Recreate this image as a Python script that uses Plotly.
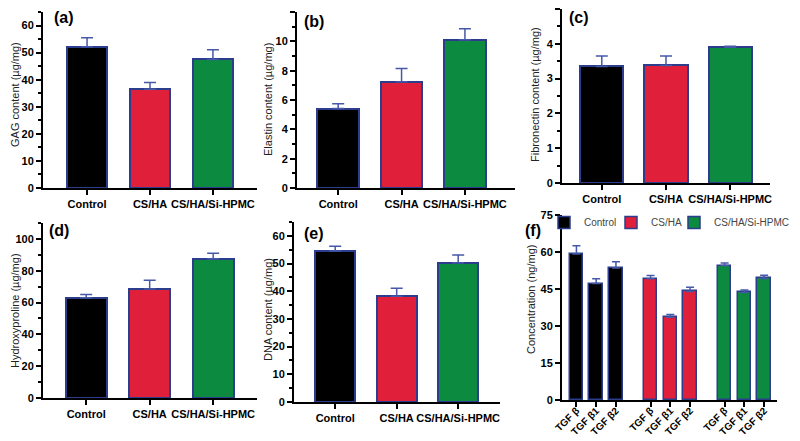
import plotly.graph_objects as go

groups = ["Control", "CS/HA", "CS/HA/Si-HPMC"]
colors = ["#000000", "#e01f3a", "#0b8a40"]

gag = [52.2, 36.5, 47.5]
gag_err = [3.3, 2.5, 3.6]
elastin = [5.42, 7.25, 10.1]
elastin_err = [0.33, 0.9, 0.75]
fibronectin = [3.35, 3.38, 3.9]
fibronectin_err = [0.3, 0.27, 0.03]
hydroxyproline = [63.0, 68.5, 87.5]
hydroxyproline_err = [2.0, 5.5, 3.5]
dna = [54.5, 38.2, 50.3]
dna_err = [1.7, 2.9, 2.8]

tgf_labels = ["TGF β", "TGF β1", "TGF β2"]
tgf_control = [59.2, 47.2, 53.5]
tgf_control_err = [3.3, 2.0, 2.5]
tgf_csha = [49.2, 33.5, 44.0]
tgf_csha_err = [1.3, 1.2, 1.7]
tgf_sihpmc = [54.5, 43.6, 49.3]
tgf_sihpmc_err = [1.0, 1.0, 1.3]

# page body has an 8px margin, so the figure is 792x433 and coordinates are offset by 8
OFF = 8
W, H = 800 - OFF, 441 - OFF
BORDER = "#2b3d8c"
ERRC = "#4658a8"
FONT = "Liberation Sans"

def px(x):
    return (x - OFF) / W

def py(y):
    return 1 - (y - OFF) / H

fig = go.Figure()

panels = [
    (gag, gag_err, "GAG content (µg/mg)", "(a)", (43, 257), (12, 188), 65, 10, 5, (-0.7, 2.7), 0.64, (15, 95), (52, 17)),
    (elastin, elastin_err, "Elastin content (µg/mg)", "(b)", (297, 515), (12, 188), 12, 2, 1, (-0.65, 2.79), 0.66, (268, 100), (302, 21)),
    (fibronectin, fibronectin_err, "Fibronectin content (µg/mg)", "(c)", (562, 770), (9, 183), 5, 1, 0.5, (-0.62, 2.62), 0.67, (535, 95), (567, 17)),
    (hydroxyproline, hydroxyproline_err, "Hydroxyproline (µg/mg)", "(d)", (43, 257), (223, 398), 110, 20, 10, (-0.68, 2.69), 0.65, (15, 311), (47, 231)),
    (dna, dna_err, "DNA content (µg/mg)", "(e)", (294, 500), (222, 402), 65, 10, 5, (-0.67, 2.68), 0.65, (268, 310), (302, 233)),
]

axis_common = dict(showline=True, linecolor="black", linewidth=2, ticks="outside",
                   ticklen=5, tickwidth=2, tickcolor="black", showgrid=False, zeroline=False,
                   automargin=False)
tickfont = dict(family=FONT, size=11, color="black", weight="bold")

annotations = []
for i, (vals, errs, title, label, xd, yd, ymax, dt, mdt, xr, bw, tpos, lpos) in enumerate(panels):
    n = i + 1
    xa = "x" if n == 1 else f"x{n}"
    ya = "y" if n == 1 else f"y{n}"
    fig.add_trace(go.Bar(
        x=groups, y=vals, width=bw,
        marker=dict(color=colors, line=dict(color=BORDER, width=2)),
        error_y=dict(type="data", symmetric=False, array=errs, arrayminus=[0] * len(errs),
                     color=ERRC, thickness=1.5, width=6),
        xaxis=xa, yaxis=ya, showlegend=False))
    fig.layout[f"xaxis{'' if n == 1 else n}"] = dict(
        domain=[px(xd[0]), px(xd[1])], anchor=ya, type="category", range=list(xr),
        tickangle=0, tickfont=tickfont, **axis_common)
    fig.layout[f"yaxis{'' if n == 1 else n}"] = dict(
        domain=[py(yd[1]), py(yd[0])], anchor=xa, range=[0, ymax], dtick=dt,
        minor=dict(dtick=mdt, ticks="outside", ticklen=3, tickwidth=1.5, tickcolor="black"),
        tickfont=tickfont, **axis_common)
    annotations.append(dict(text=title, x=px(tpos[0]), y=py(tpos[1]), xref="paper", yref="paper",
                            textangle=-90, showarrow=False, xanchor="center", yanchor="middle",
                            font=dict(family=FONT, size=11, color="#222")))
    annotations.append(dict(text=label, x=px(lpos[0]), y=py(lpos[1]), xref="paper", yref="paper",
                            showarrow=False, xanchor="left", yanchor="middle",
                            font=dict(family=FONT, size=16, color="black", weight="bold")))

# Panel f
GROUP_STEP = 3.75
tgf_sets = [(tgf_control, tgf_control_err), (tgf_csha, tgf_csha_err), (tgf_sihpmc, tgf_sihpmc_err)]
legend_names = ["legend", "legend2", "legend3"]
tickvals, ticktext = [], []
for g, (vals, errs) in enumerate(tgf_sets):
    xs = [g * GROUP_STEP + k for k in range(len(vals))]
    tickvals += xs
    ticktext += tgf_labels
    fig.add_trace(go.Bar(
        x=xs, y=vals, width=0.68, name=groups[g], legend=legend_names[g],
        marker=dict(color=colors[g], line=dict(color=BORDER, width=1.5)),
        error_y=dict(type="data", symmetric=False, array=errs, arrayminus=[0] * len(errs),
                     color=ERRC, thickness=1.5, width=4),
        xaxis="x6", yaxis="y6", showlegend=True))

fig.layout["xaxis6"] = dict(domain=[px(562), px(777)], anchor="y6", range=[-0.73, 10.15],
                            tickvals=tickvals, ticktext=ticktext, tickangle=-45,
                            ticklabelstandoff=-6,
                            tickfont=dict(family=FONT, size=10, color="black", weight="bold"),
                            **axis_common)
fig.layout["yaxis6"] = dict(domain=[py(400), py(215)], anchor="x6", range=[0, 75], dtick=15,
                            tickfont=tickfont, **axis_common)
annotations.append(dict(text="Concentration (ng/mg)", x=px(531), y=py(300), xref="paper", yref="paper",
                        textangle=-90, showarrow=False, xanchor="center", yanchor="middle",
                        font=dict(family=FONT, size=11, color="#222")))
annotations.append(dict(text="(f)", x=px(523), y=py(230), xref="paper", yref="paper",
                        showarrow=False, xanchor="left", yanchor="middle",
                        font=dict(family=FONT, size=16, color="black", weight="bold")))

leg_common = dict(orientation="h", xanchor="left", yanchor="top", itemwidth=30,
                  font=dict(family=FONT, size=10, color="#444"), bgcolor="rgba(0,0,0,0)",
                  borderwidth=0)
fig.update_layout(
    width=W, height=H, margin=dict(l=0, r=0, t=0, b=0, autoexpand=False),
    paper_bgcolor="white", plot_bgcolor="white",
    annotations=annotations, bargap=0,
    legend=dict(x=px(544), y=py(208), **leg_common),
    legend2=dict(x=px(611), y=py(208), **leg_common),
    legend3=dict(x=px(674), y=py(208), **leg_common),
)

fig.write_html("out.html")
